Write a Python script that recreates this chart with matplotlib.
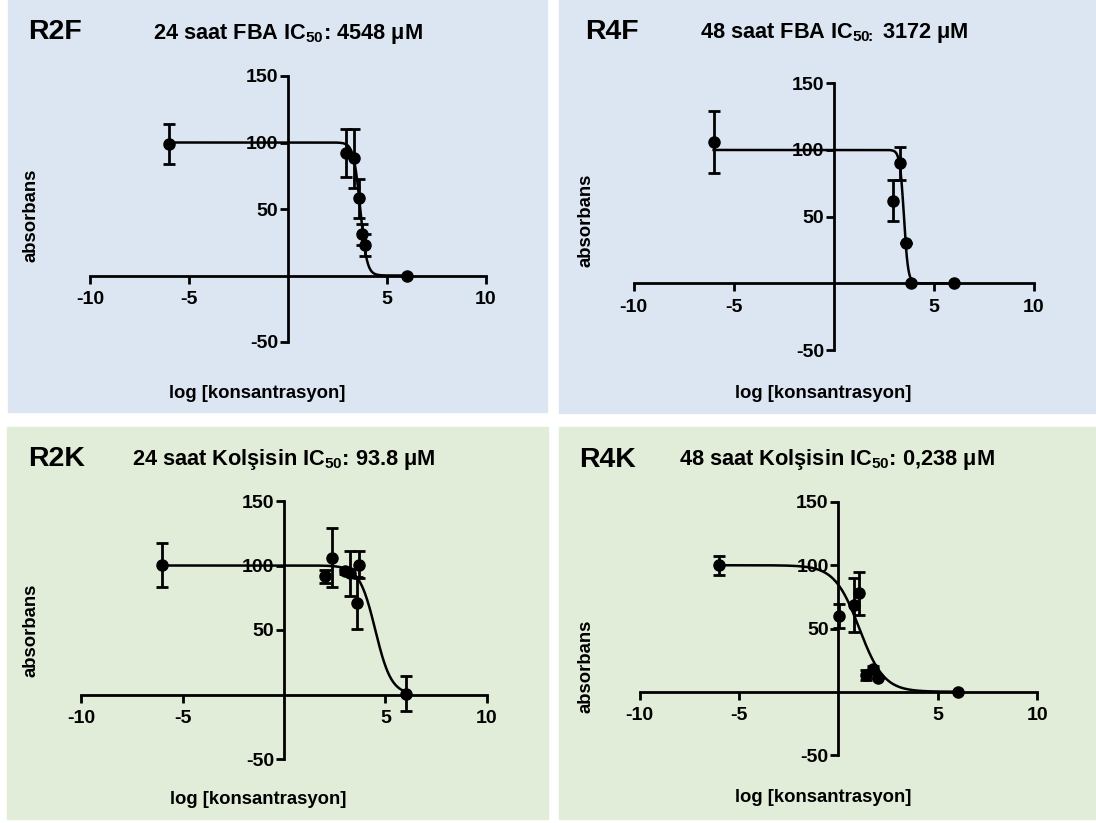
import numpy as np
import matplotlib
matplotlib.use("Agg")
import matplotlib.pyplot as plt
from matplotlib.patches import Rectangle

plt.rcParams['font.family'] = ['Liberation Sans', 'DejaVu Sans']
plt.rcParams['font.weight'] = 'bold'
plt.rcParams['axes.unicode_minus'] = False
plt.rcParams['mathtext.fontset'] = 'custom'
plt.rcParams['mathtext.bf'] = 'Liberation Sans:bold'
plt.rcParams['mathtext.rm'] = 'Liberation Sans:bold'
plt.rcParams['mathtext.default'] = 'bf'

# ---- data ----
panel_names = ["R2F", "R4F", "R2K", "R4K"]
titles = [r"24 saat FBA IC$_{50}$: 4548 μM",
          r"48 saat FBA IC$_{50\!\!:}$ 3172 μM",
          r"24 saat Kolşisin IC$_{50}$: 93.8 μM",
          r"48 saat Kolşisin IC$_{50}$: 0,238 μM"]

r2f_x = [-6.0, 2.93, 3.32, 3.59, 3.75, 3.87, 6.0]
r2f_y = [99, 92, 88, 58, 31, 23, 0]
r2f_err = [15, 18, 22, 14.5, 8, 8, 0]

r4f_x = [-6.0, 2.98, 3.30, 3.60, 3.85, 6.0]
r4f_y = [106, 62, 90, 30, 0, 0]
r4f_err = [23.5, 15.5, 12.5, 0, 0, 0]

r2k_x = [-6.0, 2.0, 2.36, 3.0, 3.25, 3.58, 3.68, 6.0]
r2k_y = [100.5, 91.5, 106, 95.5, 94, 71, 100.5, 0.5]
r2k_err = [17, 5, 23, 2, 17.5, 20, 10.5, 13.5]

r4k_x = [-6.0, 0.02, 0.8, 1.03, 1.38, 1.75, 2.0, 6.0]
r4k_y = [100, 60, 68.5, 78, 13, 18, 11, 0]
r4k_err = [7.5, 9.5, 21.5, 17, 4, 2, 0, 0]

# fitted dose-response curves: top, bottom, logIC50 (plot units), hill slope
fit_top = [100, 100, 100, 100]
fit_bottom = [0, 0, 0, 0]
fit_logic50 = [3.65, 3.51, 4.5, 1.05]
fit_hill = [2.6, 4.2, 1.1, 0.7]

xs = [r2f_x, r4f_x, r2k_x, r4k_x]
ys = [r2f_y, r4f_y, r2k_y, r4k_y]
errs = [r2f_err, r4f_err, r2k_err, r4k_err]

W, H = 1096, 823
fig = plt.figure(figsize=(W / 100, H / 100), dpi=100)

def fx(px):
    return px / W

def fy(py):
    return 1 - py / H

# background panels (pixel boxes: left, top, right, bottom)
bg = [(8, 0, 547, 412, "#dce6f2"), (559, 0, 1096, 413, "#dce6f2"),
      (7, 427, 548, 819, "#e2edd9"), (559, 427, 1096, 819, "#e2edd9")]
for l, t, r, b, c in bg:
    fig.patches.append(Rectangle((fx(l), fy(b)), fx(r) - fx(l), fy(t) - fy(b),
                                 transform=fig.transFigure, color=c, zorder=-10))

# axes boxes in pixels: x(-10), x(10), y(150), y(-50)
boxes = [(90.2, 485.8, 76, 342), (633.6, 1033.8, 83.3, 350),
         (81.1, 486.9, 501, 759), (639.6, 1037.3, 502, 755)]
name_pos = [(28, 32), (585, 32), (28, 459), (579, 460)]
title_pos = [(288, 34), (834, 33), (284, 459), (837, 460)]
ylab_pos = [(31, 215), (586, 220), (31, 630), (586, 666)]
xlab_pos = [(257, 393), (823, 393), (258, 800), (823, 797)]

for i in range(4):
    x0, x1, y0, y1 = boxes[i]
    ax = fig.add_axes([fx(x0), fy(y1), fx(x1) - fx(x0), fy(y0) - fy(y1)], zorder=5)
    ax.set_facecolor("none")
    ax.set_xlim(-10, 10)
    ax.set_ylim(-50, 150)
    for s in ["top", "right"]:
        ax.spines[s].set_visible(False)
    ax.spines["left"].set_position(("data", 0))
    ax.spines["bottom"].set_position(("data", 0))
    ax.spines["left"].set_bounds(-50, 150)
    ax.spines["bottom"].set_bounds(-10, 10)
    for s in ["left", "bottom"]:
        ax.spines[s].set_linewidth(2.0)
    ax.set_xticks([-10, -5, 5, 10])
    ax.set_yticks([-50, 50, 100, 150])
    ax.tick_params(direction="out", length=6, width=2.0, labelsize=14)
    ax.tick_params(axis="x", pad=5)
    ax.tick_params(axis="y", pad=1)
    for lab in ax.get_xticklabels() + ax.get_yticklabels():
        lab.set_fontweight("bold")

    xc = np.linspace(-6, 6, 600)
    yc = fit_bottom[i] + (fit_top[i] - fit_bottom[i]) / (1 + 10 ** ((xc - fit_logic50[i]) * fit_hill[i]))
    ax.plot(xc, yc, color="black", lw=1.8, zorder=3)
    ax.errorbar(xs[i], ys[i], yerr=errs[i], fmt="o", color="black", ms=8,
                elinewidth=2.0, capsize=4, capthick=2.0, zorder=4, clip_on=False)

    fig.text(fx(name_pos[i][0]), fy(name_pos[i][1]), panel_names[i], fontsize=20.5,
             fontweight="bold", ha="left", va="center")
    fig.text(fx(title_pos[i][0]), fy(title_pos[i][1]), titles[i], fontsize=15.7,
             fontweight="bold", ha="center", va="center")
    fig.text(fx(ylab_pos[i][0]), fy(ylab_pos[i][1]), "absorbans", fontsize=13.3,
             fontweight="bold", ha="center", va="center", rotation=90)
    fig.text(fx(xlab_pos[i][0]), fy(xlab_pos[i][1]), "log [konsantrasyon]", fontsize=13.3,
             fontweight="bold", ha="center", va="center")

fig.savefig("out.png", dpi=100, facecolor="white")
